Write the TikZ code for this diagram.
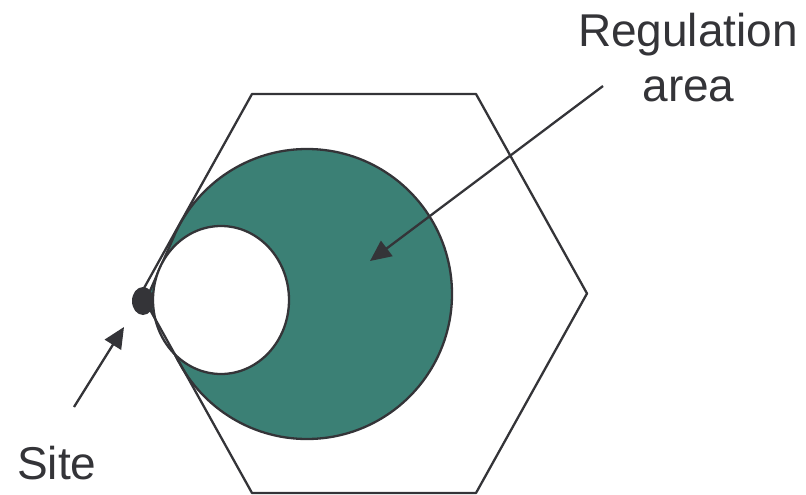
\documentclass[tikz,border=0pt]{standalone}
\usepackage{fontspec}
\setmainfont{Liberation Sans}
\usetikzlibrary{calc,arrows.meta,shapes.geometric}
\definecolor{teal}{RGB}{59,128,117}
\definecolor{ink}{RGB}{52,52,56}
\tikzset{
  outline/.style={draw=ink, line width=2.3pt, line join=round},
  pointer/.style={draw=ink, line width=2.3pt, -{Triangle[length=21pt,width=19pt]}},
  label/.style={text=ink, inner sep=0pt, anchor=base, font=\fontsize{46}{55}\selectfont},
}
\begin{document}
\begin{tikzpicture}[x=1pt,y=-1pt]
\useasboundingbox (0,0) rectangle (806,495);
% hexagon corners
\coordinate (h1) at (252,94);
\coordinate (h2) at (476,94);
\coordinate (h3) at (587,293.5);
\coordinate (h4) at (476,493);
\coordinate (h5) at (252,493);
\coordinate (h6) at (141,293.5);
% regulation area: big circle plus tangents to the site
\coordinate (p) at (146,300);
\node[circle, minimum size=290pt, inner sep=0pt, outer sep=0pt] (big) at (307,294) {};
\coordinate (t1) at (tangent cs:node=big, point={(p)}, solution=1);
\coordinate (t2) at (tangent cs:node=big, point={(p)}, solution=2);
\filldraw[fill=teal, outline] (big.center) circle[radius=145];
\fill[teal] (p) -- (t1) -- (big.center) -- (t2) -- cycle;
\draw[outline] (t1) -- (p) -- (t2);
% white inner circle
\node[ellipse, draw=ink, fill=white, line width=2.3pt, minimum width=136pt, minimum height=148pt, inner sep=0pt] (inner) at (221,300) {};
% hexagon
\draw[outline] (h1) -- (h2) -- (h3) -- (h4) -- (h5) -- (h6) -- cycle;
% site dot
\node[ellipse, fill=ink, minimum width=22pt, minimum height=28pt, inner sep=0pt] (site) at (143,301) {};
% labels
\node[label] (reg1) at (688,46.5) {Regulation};
\node[label] (reg2) at (688.5,102) {area};
\node[label, anchor=base west] (sitelbl) at (17,479) {Site};
% arrows
\coordinate (regstart) at (603,86);
\coordinate (regtip) at (370,261);
\coordinate (sitestart) at (74,407);
\coordinate (sitetip) at (124,327);
\draw[pointer] (regstart) -- (regtip);
\draw[pointer] (sitestart) -- (sitetip);
\end{tikzpicture}
\end{document}
